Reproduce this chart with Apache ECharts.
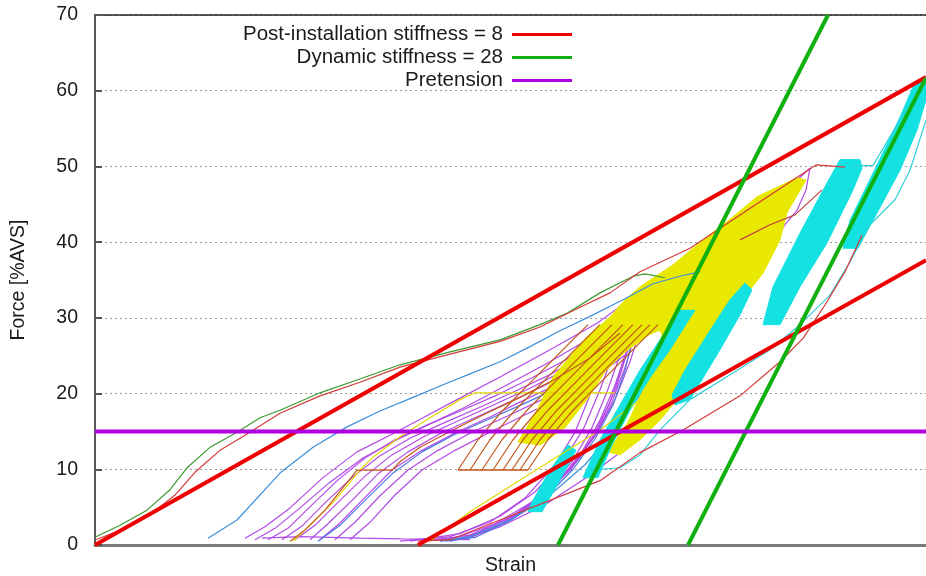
<!DOCTYPE html>
<html><head><meta charset="utf-8">
<script src="https://cdn.jsdelivr.net/npm/echarts@6/dist/echarts.min.js"></script>
<style>html,body{margin:0;padding:0;background:#fff}#c{width:926px;height:576px}</style>
</head><body><div id="c"></div>
<script>
// x = strain (arbitrary units, axis unlabelled), y = force [%AVS]
const yTicks = [0,10,20,30,40,50,60,70];
const stiffPost1 = [[0,0],[831,61.8]];
const stiffPost2 = [[323,0],[831,37.6]];
const stiffDyn1 = [[463,0],[733,70]];
const stiffDyn2 = [[593,0],[831,61.7]];
const pretension = [[0,15],[831,15]];

const greenCurve = [[1,1.1],[25,2.6],[52,4.6],[75,7.3],[92,10.2],[115,12.9],[142,14.9],[165,16.8],[185,17.8],[225,20.1],[262,21.8],[305,23.8],[355,25.5],[405,27.1],[445,29.1],[472,30.6],[505,33.3],[538,35.5],[550,35.8],[570,35.3]];
const redEnvLoad = [[1,0.7],[30,2.2],[55,4.0],[80,6.6],[100,9.6],[125,12.5],[150,14.5],[185,17.4],[225,19.7],[265,21.5],[305,23.5],[355,25.2],[405,26.9],[445,28.8],[485,31.4],[515,33.3],[545,36.1],[595,39.2],[645,43.6],[698,48.2],[721,50.2],[750,49.9]];
const redEnvUnload = [[767,40.9],[750,36.1],[730,31.7],[708,27.3],[685,24.2],[645,19.7],[588,15.2],[545,12.2],[505,8.5],[455,5.9],[405,3.3],[355,0.7],[323,0.5]];
const redInner = [[645,40.3],[675,42.3],[700,43.6],[727,46.9]];
const blueLoad = [[113,0.9],[142,3.3],[185,9.5],[218,12.9],[252,15.6],[285,17.7],[318,19.5],[345,21.0],[375,22.6],[405,24.2],[435,26.2],[465,28.3],[495,30.2],[528,32.4],[558,34.5],[585,35.5],[605,36.1]];
const blueUnload = [[605,36.1],[595,32.4],[580,28.4],[565,24.4],[545,19.8],[520,15.2],[490,10.6],[455,6.6],[415,3.3],[375,1.1],[345,0.5]];
const blueLoop2 = [[223,0.5],[245,2.6],[270,5.9],[297,9.4],[327,12.3],[361,14.7],[397,16.8],[433,18.9],[468,21.1],[503,23.8],[537,27.1],[530,23.0],[518,18.5],[500,14.0],[478,10.0],[450,6.2],[415,3.2],[380,1.0],[350,0.5]];

const purple1 = [[173,0.7],[193,2.2],[217,5.3],[243,8.6],[270,11.5],[300,13.9],[333,15.9],[367,17.8],[402,19.8],[437,22.1],[470,24.4],[500,27.1],[520,29.1],[510,25.1],[495,19.8],[480,14.9],[460,10.6],[430,6.2],[395,3.0],[355,1.1],[305,0.5]];
const purple2 = [[200,0.7],[220,2.6],[245,5.9],[270,9.1],[297,11.9],[330,14.4],[365,16.5],[400,18.6],[435,20.7],[470,23.1],[505,26.3],[533,29.1],[525,25.1],[512,20.2],[497,15.5],[477,11.0],[450,6.9],[415,3.6],[375,1.3],[330,0.5]];
const purple3 = [[225,0.7],[245,2.9],[270,6.3],[297,9.9],[327,12.5],[360,14.8],[395,16.9],[430,19.2],[465,21.4],[500,24.2],[535,27.5],[527,23.4],[515,18.9],[497,14.1],[475,9.9],[445,6.2],[410,3.0],[375,1.1],[345,0.5]];
const purple4 = [[255,0.7],[275,3.0],[300,6.6],[327,9.9],[360,12.5],[395,14.9],[430,17.2],[465,19.4],[500,22.1],[530,25.1],[520,21.1],[505,16.5],[487,12.3],[463,8.3],[430,4.6],[395,2.0],[365,0.7]];
const purple5 = [[150,0.9],[170,2.4],[195,4.9],[228,8.9],[262,12.3],[295,14.5],[328,16.8],[362,19.2],[405,22.2],[455,25.8],[502,29.3],[545,33.4],[605,38.7],[655,43.6],[692,46.9],[715,49.8],[711,46.9],[702,44.2],[690,42.3],[670,38.3],[650,33.7],[625,28.4],[600,23.1],[570,17.8],[535,13.2],[495,9.2],[450,5.3],[405,2.4],[365,0.7]];
const purple6 = [[187,0.7],[207,2.5],[231,5.7],[257,8.9],[285,11.8],[315,14.1],[350,16.2],[385,18.2],[420,20.3],[455,22.5],[490,25.2],[517,28.0],[527,29.3],[519,25.5],[505,20.5],[489,15.5],[469,11.2],[440,7.0],[405,3.8],[365,1.5],[315,0.5]];
const purple7 = [[215,0.7],[233,2.8],[257,5.9],[283,9.4],[313,12.3],[345,14.7],[380,16.8],[415,18.9],[450,21.1],[485,23.6],[517,26.8],[541,30.0],[533,25.8],[521,20.7],[505,15.9],[485,11.5],[455,7.3],[420,4.0],[383,1.6],[355,0.5]];
const purple8 = [[240,0.7],[260,3.0],[285,6.5],[313,9.9],[343,12.5],[377,14.9],[412,17.0],[447,19.2],[482,21.7],[515,24.6],[540,27.7],[530,23.4],[517,18.9],[500,14.4],[477,10.2],[448,6.3],[413,3.3],[378,1.1],[355,0.5]];
const purple9 = [[160,0.7],[180,2.2],[205,4.9],[235,8.3],[268,11.5],[302,13.9],[335,16.0],[370,18.2],[410,21.0],[455,24.2],[500,27.7],[535,31.0],[553,32.8],[547,29.1],[535,24.2],[520,19.2],[500,14.4],[473,9.9],[440,5.9],[400,2.8],[360,0.9],[325,0.5]];
const purpleBase = [[167,0.9],[205,1.1],[265,0.9],[305,0.8],[375,0.7]];

const brownLoop = [[195,0.5],[210,2.0],[230,4.6],[250,7.9],[262,9.9],[297,9.9],[305,11.0],[325,12.9],[355,15.0],[390,17.3],[425,19.5],[460,21.9],[495,24.7],[525,28.0]];
const brown1 = [[363,9.9],[383,13.9],[408,17.8],[438,21.8],[468,25.8],[493,29.1]];
const brown2 = [[375,9.9],[395,13.9],[420,17.8],[450,21.8],[480,25.8],[505,29.1]];
const brown3 = [[387,9.9],[407,13.9],[432,17.8],[462,21.8],[492,25.8],[517,29.1]];
const brown4 = [[398,9.9],[418,13.9],[443,17.8],[473,21.8],[503,25.8],[528,29.1]];
const brown5 = [[408,9.9],[428,13.9],[453,17.8],[483,21.8],[513,25.8],[538,29.1]];
const brown6 = [[417,9.9],[437,13.9],[462,17.8],[492,21.8],[522,25.8],[547,29.1]];
const brown7 = [[425,9.9],[445,13.9],[470,17.8],[500,21.8],[530,25.8],[555,29.1]];
const brown8 = [[433,9.9],[453,13.9],[478,17.8],[508,21.8],[538,25.8],[563,29.1]];
const brownBase1 = [[363,9.9],[433,9.9]];

const yellowThin1 = [[198,0.5],[215,2.6],[240,5.9],[265,9.9],[278,11.6],[305,14.3],[335,16.8],[365,19.2],[380,20.1],[505,20.1],[520,20.1]];
const yellowThin2 = [[335,0.5],[375,4.4],[425,8.6],[465,11.9],[505,15.2],[545,19.2]];
const cyanUnload = [[831,56.1],[815,49.5],[800,45.6],[775,42.3],[755,37.4],[735,33.0],[705,29.1],[675,25.8],[635,22.5],[595,19.2],[565,15.2],[545,11.9],[525,10.2],[495,9.9]];
const cyanTop = [[757,50.1],[778,50.1],[793,53.5],[810,57.2],[825,59.8]];

// dense cycle bands (outlines)
const yellowBand = [[423,13.6],[442,17.8],[458,22.2],[472,24.4],[492,27.5],[515,30.1],[530,32.4],[545,34.1],[578,37.0],[612,40.7],[632,42.7],[662,46.0],[702,48.5],[711,48.2],[692,43.9],[685,40.3],[668,35.9],[655,33.7],[640,31.0],[628,28.4],[612,24.0],[595,20.5],[582,19.2],[565,16.5],[545,13.9],[525,11.9],[513,12.3],[533,16.2],[547,20.2],[557,24.2],[567,27.7],[565,28.4],[553,27.7],[530,25.5],[510,22.9],[493,19.4],[470,15.5],[445,13.2]];
const cyanBand1 = [[488,8.9],[503,8.9],[517,13.2],[535,17.8],[555,22.1],[575,25.8],[595,30.0],[600,31.0],[585,31.0],[565,27.1],[545,23.1],[525,18.5],[505,13.9]];
const cyanBand2 = [[433,4.4],[447,4.4],[465,8.6],[481,12.5],[473,13.2],[455,9.9],[438,5.9]];
const cyanBand3 = [[580,18.5],[595,19.2],[625,25.8],[645,30.4],[657,33.7],[650,34.6],[635,32.4],[612,27.7],[590,23.1],[577,19.8]];
const cyanBand4 = [[668,29.1],[685,29.1],[705,34.1],[732,39.9],[758,46.9],[767,49.8],[765,50.9],[745,50.9],[732,47.8],[705,41.2],[678,34.1]];
const cyanBand5 = [[748,39.2],[763,39.2],[785,44.6],[805,49.5],[822,54.8],[831,58.8],[831,61.7],[818,60.5],[805,56.5],[778,49.1],[755,42.9]];

const FONT = 'Liberation Sans, Arial, sans-serif';
const chart = echarts.init(document.getElementById('c'));

function thin(data, color, w, z) {
  return {type:'line', data, symbol:'none', showSymbol:false, silent:true, animation:false,
          lineStyle:{color, width: w || 1.2}, itemStyle:{color}, z: z || 4};
}
function band(points, color) {
  return {type:'custom', coordinateSystem:'cartesian2d', data:[[points[0][0], points[0][1]]],
          silent:true, animation:false, clip:true, z:3,
          renderItem: function(params, api) {
            return {type:'polygon', shape:{points: points.map(p => api.coord(p))},
                    style:{fill: color, stroke: color, lineWidth: 1}};
          }};
}
function thick(name, data, color) {
  return {type:'line', name, data, symbol:'none', showSymbol:false, silent:true, animation:false,
          lineStyle:{color, width:4}, itemStyle:{color}, z:6};
}

const YEL = '#e8e800', CYA = '#14e2e2', PUR = '#b24ae6', BRN = '#c4561c', BLU = '#3d8fdc';
const series = [
  thin(purpleBase, PUR, 1.2, 2),
  thin(purple1, PUR, 1.2, 2), thin(purple2, PUR, 1.2, 2), thin(purple3, PUR, 1.2, 2), thin(purple4, PUR, 1.2, 2),
  thin(purple5, PUR, 1.2, 2), thin(purple6, PUR, 1.2, 2), thin(purple7, PUR, 1.2, 2), thin(purple8, PUR, 1.2, 2),
  thin(purple9, PUR, 1.2, 2), thin(blueLoop2, '#4a78e0', 1.2, 2), thin(blueUnload, BLU, 1.2, 2),
  band(yellowBand, YEL),
  band(cyanBand1, CYA), band(cyanBand2, CYA), band(cyanBand3, CYA), band(cyanBand4, CYA), band(cyanBand5, CYA),
  thin(yellowThin1, '#e0d800'), thin(yellowThin2, '#e0d800'),
  thin(brownLoop, BRN),
  thin(brown1, BRN), thin(brown2, BRN), thin(brown3, BRN), thin(brown4, BRN),
  thin(brown5, BRN), thin(brown6, BRN), thin(brown7, BRN), thin(brown8, BRN),
  thin(brownBase1, BRN, 1.6),
  thin(blueLoad, BLU),
  thin(cyanUnload, '#30d0d8'), thin(cyanTop, '#30d0d8'),
  thin(greenCurve, '#3c9a30'),
  thin(redEnvLoad, '#d43a3a'), thin(redEnvUnload, '#d43a3a'), thin(redInner, '#c04040'),
  thick('Post-installation stiffness = 8', stiffPost1, '#ee0000'),
  thick('Post-installation stiffness = 8', stiffPost2, '#ee0000'),
  thick('Dynamic stiffness = 28', stiffDyn1, '#10b010'),
  thick('Dynamic stiffness = 28', stiffDyn2, '#10b010'),
  thick('Pretension', pretension, '#b000e0')
];

function leg(name, top) {
  return {data:[name], right:349, top, orient:'vertical', align:'right', icon:'rect',
          itemWidth:60, itemHeight:3, selectedMode:false,
          textStyle:{fontFamily:FONT, fontSize:20.5, color:'#1a1a1a', padding:[0,4,0,0]}};
}

chart.setOption({
  animation:false,
  backgroundColor:'#fff',
  grid:{left:95, right:0, top:15, bottom:31, outerBoundsMode:'none', containLabel:false},
  legend:[leg('Post-installation stiffness = 8', 19), leg('Dynamic stiffness = 28', 42), leg('Pretension', 65)],
  xAxis:[{type:'value', min:0, max:831, name:'Strain', nameLocation:'middle', nameGap:11,
          nameTextStyle:{fontFamily:FONT, fontSize:19.5, color:'#1a1a1a'},
          axisLine:{show:true, lineStyle:{color:'#7a7a7a', width:3}}, axisTick:{show:false},
          axisLabel:{show:false}, splitLine:{show:false}},
         {type:'value', min:0, max:831, position:'top',
          axisLine:{show:true, lineStyle:{color:'#222', width:1.5}}, axisTick:{show:false},
          axisLabel:{show:false}, splitLine:{show:false}}],
  yAxis:{type:'value', min:yTicks[0], max:yTicks[yTicks.length-1], interval:10,
         name:'Force [%AVS]', nameLocation:'middle', nameGap:66, nameRotate:90,
         nameTextStyle:{fontFamily:FONT, fontSize:19.5, color:'#1a1a1a'},
         axisLine:{show:true, lineStyle:{color:'#222', width:1.5}},
         axisTick:{show:true, inside:true, length:7, lineStyle:{color:'#555', width:2}},
         axisLabel:{fontFamily:FONT, fontSize:19.5, color:'#1a1a1a', margin:17},
         splitLine:{show:true, lineStyle:{type:[2,3], color:'#9a9a9a', width:1}}},
  series
});
</script></body></html>
